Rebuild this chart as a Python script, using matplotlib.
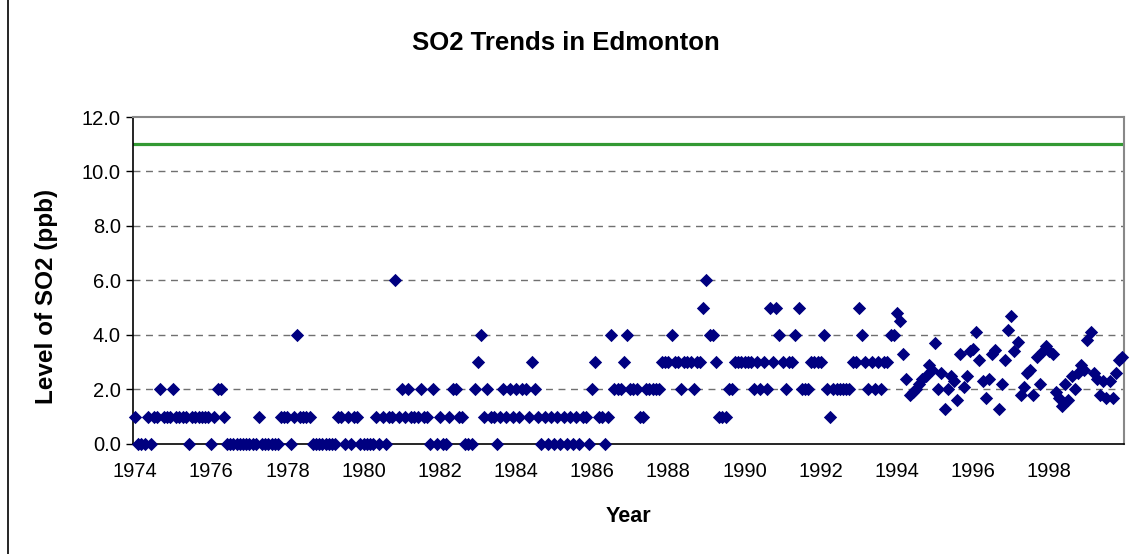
import matplotlib
matplotlib.use('Agg')
import matplotlib.pyplot as plt
import numpy as np

# monthly SO2 levels (ppb), one list per year, Jan..Dec
so2_1974 = [1, 0, 0, 0, 1, 0, 1, 1, 2, 1, 1, 1]
so2_1975 = [2, 1, 1, 1, 1, 0, 1, 1, 1, 1, 1, 1]
so2_1976 = [0, 1, 2, 2, 1, 0, 0, 0, 0, 0, 0, 0]
so2_1977 = [0, 0, 0, 1, 0, 0, 0, 0, 0, 0, 1, 1]
so2_1978 = [1, 0, 1, 4, 1, 1, 1, 1, 0, 0, 0, 0]
so2_1979 = [0, 0, 0, 0, 1, 1, 0, 1, 0, 1, 1, 0]
so2_1980 = [0, 0, 0, 0, 1, 0, 1, 0, 1, 1, 6, 1]
so2_1981 = [2, 1, 2, 1, 1, 1, 2, 1, 1, 0, 2, 0]
so2_1982 = [1, 0, 0, 1, 2, 2, 1, 1, 0, 0, 0, 2]
so2_1983 = [3, 4, 1, 2, 1, 1, 0, 1, 2, 1, 2, 1]
so2_1984 = [2, 1, 2, 2, 1, 3, 2, 1, 0, 1, 0, 1]
so2_1985 = [0, 1, 0, 1, 0, 1, 0, 1, 0, 1, 1, 0]
so2_1986 = [2, 3, 1, 1, 0, 1, 4, 2, 2, 2, 3, 4]
so2_1987 = [2, 2, 2, 1, 1, 2, 2, 2, 2, 2, 3, 3]
so2_1988 = [3, 4, 3, 3, 2, 3, 3, 3, 2, 3, 3, 5]
so2_1989 = [6, 4, 4, 3, 1, 1, 1, 2, 2, 3, 3, 3]
so2_1990 = [3, 3, 3, 2, 3, 2, 3, 2, 5, 3, 5, 4]
so2_1991 = [3, 2, 3, 3, 4, 5, 2, 2, 2, 3, 3, 3]
so2_1992 = [3, 4, 2, 1, 2, 2, 2, 2, 2, 2, 3, 3]
so2_1993 = [5, 4, 3, 2, 3, 2, 3, 2, 3, 3, 4, 4]
so2_1994 = [4.8, 4.5, 3.3, 2.4, 1.8, 1.9, 2.0, 2.2, 2.4, 2.5, 2.9, 2.7]
so2_1995 = [3.7, 2.0, 2.6, 1.3, 2.0, 2.5, 2.3, 1.6, 3.3, 2.1, 2.5, 3.4]
so2_1996 = [3.5, 4.1, 3.1, 2.3, 1.7, 2.4, 3.3, 3.45, 1.3, 2.2, 3.1, 4.2]
so2_1997 = [4.7, 3.4, 3.75, 1.8, 2.1, 2.6, 2.7, 1.8, 3.2, 2.2, 3.4, 3.6]
so2_1998 = [3.4, 3.3, 1.9, 1.7, 1.4, 2.2, 1.6, 2.5, 2.0, 2.6, 2.9, 2.7]
so2_1999 = [3.8, 4.1, 2.6, 2.4, 1.8, 2.3, 1.7, 2.3, 1.7, 2.6, 3.1, 3.2]

objective = 11.0
label_years = list(range(1974, 1999, 2))

levels = (so2_1974 + so2_1975 + so2_1976 + so2_1977 + so2_1978 + so2_1979 +
          so2_1980 + so2_1981 + so2_1982 + so2_1983 + so2_1984 + so2_1985 +
          so2_1986 + so2_1987 + so2_1988 + so2_1989 + so2_1990 + so2_1991 +
          so2_1992 + so2_1993 + so2_1994 + so2_1995 + so2_1996 + so2_1997 +
          so2_1998 + so2_1999)
months = np.arange(len(levels))

plt.rcParams['font.family'] = ['Liberation Sans', 'DejaVu Sans']

fig = plt.figure(figsize=(11.33, 5.54), dpi=100)
ax = fig.add_axes([0.1178, 0.1986, 0.8742, 0.5902])

# guideline
ax.axhline(objective, color='#339933', linewidth=2.3, zorder=2)

# grid
for v in np.arange(2, 12, 2):
    ax.axhline(v, color='#707070', linewidth=1.0, linestyle=(0, (5, 4)), zorder=1)

ax.scatter(months, levels, marker='D', s=46, color='#000080', linewidths=0,
           zorder=3, clip_on=False)

ax.set_xlim(-0.5, len(levels) - 0.5)
ax.set_ylim(0, 12)
ax.set_yticks(np.arange(0, 12.1, 2))
ax.set_yticklabels(['%.1f' % v for v in np.arange(0, 12.1, 2)], fontsize=14.5)
ax.set_xticks([(y - 1974) * 12 for y in label_years])
ax.set_xticklabels([str(y) for y in label_years], fontsize=14.5)
ax.tick_params(axis='x', length=0, pad=13)
ax.tick_params(axis='y', length=5, width=1, direction='out', pad=4)

for s in ['left', 'bottom']:
    ax.spines[s].set_color('black')
    ax.spines[s].set_linewidth(1.2)
    ax.spines[s].set_zorder(2.5)
for s in ['top', 'right']:
    ax.spines[s].set_color('#888888')
    ax.spines[s].set_linewidth(1.5)

fig.text(566 / 1133, 1 - 43 / 554, 'SO2 Trends in Edmonton', ha='center', va='center',
         fontsize=18.5, fontweight='bold')
fig.text(628 / 1133, 1 - 517 / 554, 'Year', ha='center', va='center',
         fontsize=15.5, fontweight='bold')
fig.text(47 / 1133, 1 - 296 / 554, 'Level of SO2 (ppb)', ha='center', va='center',
         rotation=90, fontsize=17.5, fontweight='bold')

# chart frame edge on the left
fig.add_artist(plt.Line2D([8 / 1133, 8 / 1133], [0, 1], color='black', linewidth=1.2))

plt.savefig('out.png', dpi=100)
